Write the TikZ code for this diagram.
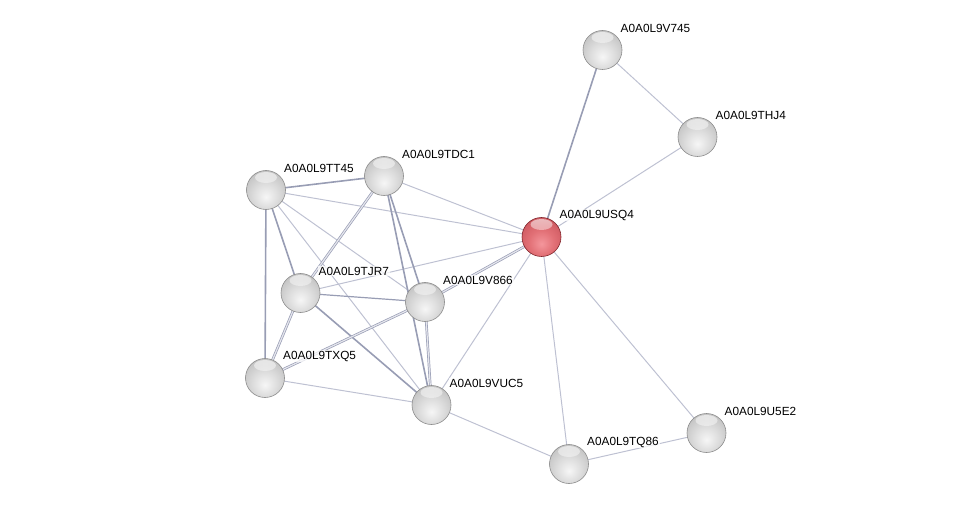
\documentclass[tikz,border=0pt]{standalone}
\usepackage{fontspec}
\setmainfont{Liberation Sans}
\usetikzlibrary{fadings,backgrounds}
\definecolor{edgeL}{RGB}{190,193,210}
\definecolor{edgeD}{RGB}{152,157,180}
\definecolor{gC}{RGB}{246,246,246}
\definecolor{gM}{RGB}{220,220,220}
\definecolor{gE}{RGB}{182,182,182}
\definecolor{gR}{RGB}{140,140,140}
\definecolor{rC}{RGB}{244,150,156}
\definecolor{rM}{RGB}{226,112,118}
\definecolor{rE}{RGB}{196,78,86}
\definecolor{rR}{RGB}{160,45,52}
\pgfdeclareradialshading{greyball}{\pgfpoint{0bp}{-9bp}}{color(0bp)=(gC); color(16bp)=(gM); color(38bp)=(gE); color(56bp)=(gR); color(80bp)=(gR)}
\pgfdeclareradialshading{redball}{\pgfpoint{0bp}{-9bp}}{color(0bp)=(rC); color(16bp)=(rM); color(38bp)=(rE); color(56bp)=(rR); color(80bp)=(rR)}
\tikzfading[name=hl, top color=transparent!40, bottom color=transparent!100]
\tikzset{
  ball/.style={circle, minimum size=39pt, inner sep=0pt, shading=greyball, draw=black!45, line width=0.6pt,
    path picture={\fill[white, path fading=hl] ([yshift=-7pt]path picture bounding box.north) ellipse (11pt and 5.5pt);}},
  redb/.style={ball, shading=redball, draw=rR!80!black},
  lab/.style={anchor=west, font=\fontsize{11.8}{13}\selectfont, inner sep=1pt, fill=white, fill opacity=0.75, text opacity=1},
  el/.style={draw=edgeL, line width=1pt},
  es/.style={draw=edgeD, line width=1.6pt},
  em/.style={draw=edgeD, line width=1.2pt},
  ed/.style={draw=edgeD, line width=0.7pt, double=edgeL!40, double distance=1.2pt},
}
\begin{document}
\begin{tikzpicture}[x=1pt,y=-1pt]
\useasboundingbox (0,0) rectangle (976,510);
% balls
\node[ball] (v745) at (602.5,50) {};
\node[ball] (thj4) at (697.5,137) {};
\node[redb] (usq4) at (541.5,237) {};
\node[ball] (tt45) at (266,190) {};
\node[ball] (tdc1) at (384,176) {};
\node[ball] (tjr7) at (300.5,293) {};
\node[ball] (v866) at (425,302) {};
\node[ball] (txq5) at (265,378) {};
\node[ball] (vuc5) at (431.5,405) {};
\node[ball] (tq86) at (569,464) {};
\node[ball] (u5e2) at (706.5,433) {};
% edges
\begin{scope}[on background layer]
\draw[el] (tt45.center) -- (usq4.center);
\draw[el] (tt45.center) -- (v866.center);
\draw[el] (tt45.center) -- (vuc5.center);
\draw[el] (tdc1.center) -- (usq4.center);
\draw[el] (tjr7.center) -- (usq4.center);
\draw[el] (vuc5.center) -- (usq4.center);
\draw[el] (txq5.center) -- (vuc5.center);
\draw[el] (vuc5.center) -- (tq86.center);
\draw[el] (usq4.center) -- (tq86.center);
\draw[el] (usq4.center) -- (u5e2.center);
\draw[el] (tq86.center) -- (u5e2.center);
\draw[el] (v745.center) -- (thj4.center);
\draw[el] (usq4.center) -- (thj4.center);
\draw[em] (tjr7.center) -- (v866.center);
\draw[es] (tt45.center) -- (tdc1.center);
\draw[es] (tt45.center) -- (tjr7.center);
\draw[es] (tt45.center) -- (txq5.center);
\draw[es] (tdc1.center) -- (vuc5.center);
\draw[es] (tjr7.center) -- (vuc5.center);
\draw[es] (usq4.center) -- (v745.center);
\draw[es] (tdc1.center) -- (v866.center);
\draw[ed] (tdc1.center) -- (tjr7.center);
\draw[ed] (tjr7.center) -- (txq5.center);
\draw[ed] (v866.center) -- (txq5.center);
\draw[ed] (v866.center) -- (usq4.center);
\draw[ed] (v866.center) -- (vuc5.center);
\end{scope}
% labels
\node[lab] (lv745) at ([shift={(17pt,22pt)}]v745.center) {A0A0L9V745};
\node[lab] (lthj4) at ([shift={(17pt,22pt)}]thj4.center) {A0A0L9THJ4};
\node[lab] (lusq4) at ([shift={(17pt,22pt)}]usq4.center) {A0A0L9USQ4};
\node[lab] (ltt45) at ([shift={(17pt,22pt)}]tt45.center) {A0A0L9TT45};
\node[lab] (ltdc1) at ([shift={(17pt,22pt)}]tdc1.center) {A0A0L9TDC1};
\node[lab] (ltjr7) at ([shift={(17pt,22pt)}]tjr7.center) {A0A0L9TJR7};
\node[lab] (lv866) at ([shift={(17pt,22pt)}]v866.center) {A0A0L9V866};
\node[lab] (ltxq5) at ([shift={(17pt,22pt)}]txq5.center) {A0A0L9TXQ5};
\node[lab] (lvuc5) at ([shift={(17pt,22pt)}]vuc5.center) {A0A0L9VUC5};
\node[lab] (ltq86) at ([shift={(17pt,22pt)}]tq86.center) {A0A0L9TQ86};
\node[lab] (lu5e2) at ([shift={(17pt,22pt)}]u5e2.center) {A0A0L9U5E2};
\end{tikzpicture}
\end{document}
